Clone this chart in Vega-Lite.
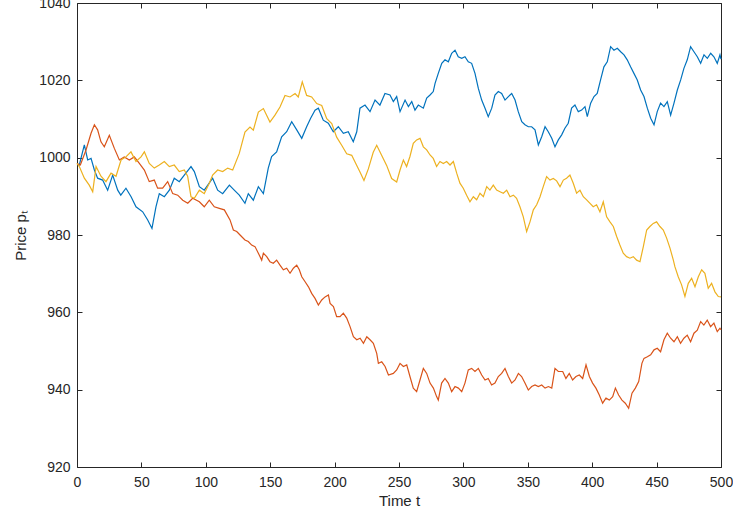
{
  "$schema": "https://vega.github.io/schema/vega-lite/v6.json",
  "width": 644,
  "height": 464,
  "autosize": "none",
  "padding": {"left": 77, "top": 3, "right": 12, "bottom": 49},
  "background": "white",
  "config": {
    "view": {"stroke": "#262626", "strokeWidth": 1},
    "axis": {
      "domain": false,
      "tickColor": "#262626",
      "tickSize": 5,
      "offset": -5,
      "labelFlush": false,
      "labelColor": "#262626",
      "titleColor": "#262626",
      "labelFont": "Liberation Sans",
      "titleFont": "Liberation Sans",
      "labelFontSize": 14,
      "titleFontSize": 15,
      "titleFontWeight": "normal",
      "format": "d",
      "grid": false
    }
  },
  "data": {"values": [
    {"series":"1","t":0,"price":998.5},{"series":"1","t":1.8,"price":998.1},{"series":"1","t":5.7,"price":1003.3},{"series":"1","t":8.3,"price":999.4},{"series":"1","t":10.9,"price":999.8},{"series":"1","t":13.5,"price":996.8},{"series":"1","t":16,"price":994.7},{"series":"1","t":19.9,"price":994.2},{"series":"1","t":23.8,"price":991.6},{"series":"1","t":27.7,"price":995.5},{"series":"1","t":31.6,"price":991.6},{"series":"1","t":34,"price":990.3},{"series":"1","t":38,"price":992.1},{"series":"1","t":42,"price":989.9},{"series":"1","t":45.8,"price":987.3},{"series":"1","t":51,"price":986},{"series":"1","t":54.9,"price":983.9},{"series":"1","t":58.2,"price":981.7},{"series":"1","t":61.3,"price":987.3},{"series":"1","t":63.9,"price":990.7},{"series":"1","t":67.8,"price":989.9},{"series":"1","t":71.7,"price":991.6},{"series":"1","t":75.5,"price":994.7},{"series":"1","t":79.4,"price":993.8},{"series":"1","t":83.3,"price":995.5},{"series":"1","t":88.5,"price":997.7},{"series":"1","t":91.1,"price":996.4},{"series":"1","t":95,"price":992.5},{"series":"1","t":98.8,"price":991.6},{"series":"1","t":105.3,"price":994.7},{"series":"1","t":109.2,"price":991.6},{"series":"1","t":113.1,"price":990.7},{"series":"1","t":118.3,"price":992.9},{"series":"1","t":122.1,"price":991.6},{"series":"1","t":126,"price":990.3},{"series":"1","t":130.4,"price":988.2},{"series":"1","t":133,"price":990.7},{"series":"1","t":136.9,"price":989},{"series":"1","t":140.8,"price":992.5},{"series":"1","t":144.7,"price":990.7},{"series":"1","t":148.5,"price":997.3},{"series":"1","t":151.1,"price":1000.3},{"series":"1","t":155,"price":1001.5},{"series":"1","t":158.9,"price":1005.4},{"series":"1","t":162.8,"price":1006.7},{"series":"1","t":166.7,"price":1009.3},{"series":"1","t":170.6,"price":1007.2},{"series":"1","t":174.5,"price":1005},{"series":"1","t":178.3,"price":1008},{"series":"1","t":181.4,"price":1010.2},{"series":"1","t":184.8,"price":1012.3},{"series":"1","t":187.4,"price":1012.8},{"series":"1","t":191.2,"price":1009.7},{"series":"1","t":195.1,"price":1008.9},{"series":"1","t":199,"price":1006.7},{"series":"1","t":202.9,"price":1008},{"series":"1","t":206.8,"price":1006.3},{"series":"1","t":210.6,"price":1006.7},{"series":"1","t":214.5,"price":1004.1},{"series":"1","t":217.2,"price":1006.7},{"series":"1","t":219.7,"price":1012.8},{"series":"1","t":223.6,"price":1013.6},{"series":"1","t":227.5,"price":1011.9},{"series":"1","t":231.4,"price":1014.9},{"series":"1","t":235.2,"price":1013.6},{"series":"1","t":239.1,"price":1016.6},{"series":"1","t":243,"price":1016.2},{"series":"1","t":245.6,"price":1014.5},{"series":"1","t":248.2,"price":1015.8},{"series":"1","t":250.8,"price":1011.9},{"series":"1","t":254.7,"price":1014.9},{"series":"1","t":257.3,"price":1013.2},{"series":"1","t":259.9,"price":1014.5},{"series":"1","t":262.4,"price":1012.3},{"series":"1","t":265,"price":1013.6},{"series":"1","t":268.9,"price":1012.8},{"series":"1","t":271.5,"price":1015.4},{"series":"1","t":274.1,"price":1016.2},{"series":"1","t":276.6,"price":1017.1},{"series":"1","t":278,"price":1019.2},{"series":"1","t":280.5,"price":1021.8},{"series":"1","t":283.2,"price":1024.4},{"series":"1","t":285.7,"price":1025.3},{"series":"1","t":288.3,"price":1024.8},{"series":"1","t":290.9,"price":1027},{"series":"1","t":293.5,"price":1027.8},{"series":"1","t":296,"price":1026.1},{"series":"1","t":298.7,"price":1025.7},{"series":"1","t":301.2,"price":1026.1},{"series":"1","t":303.8,"price":1024.8},{"series":"1","t":306.4,"price":1024.4},{"series":"1","t":309,"price":1021.8},{"series":"1","t":311.6,"price":1017.9},{"series":"1","t":314.2,"price":1014.9},{"series":"1","t":316.8,"price":1012.8},{"series":"1","t":319.3,"price":1010.6},{"series":"1","t":322,"price":1012.8},{"series":"1","t":324.5,"price":1016.2},{"series":"1","t":327.1,"price":1017.1},{"series":"1","t":329.7,"price":1016.6},{"series":"1","t":332.3,"price":1014.9},{"series":"1","t":334.9,"price":1015.8},{"series":"1","t":337.5,"price":1016.6},{"series":"1","t":340.1,"price":1014.9},{"series":"1","t":342.6,"price":1011.9},{"series":"1","t":345.3,"price":1009.3},{"series":"1","t":347.8,"price":1008.5},{"series":"1","t":350.4,"price":1008},{"series":"1","t":353,"price":1008},{"series":"1","t":355.6,"price":1007.2},{"series":"1","t":358.2,"price":1003.3},{"series":"1","t":360.8,"price":1005.4},{"series":"1","t":363.4,"price":1008},{"series":"1","t":365.9,"price":1006.7},{"series":"1","t":368.6,"price":1005},{"series":"1","t":371.1,"price":1002.8},{"series":"1","t":373.7,"price":1004.6},{"series":"1","t":376.3,"price":1005.9},{"series":"1","t":378.8,"price":1007.6},{"series":"1","t":381.4,"price":1008.9},{"series":"1","t":384,"price":1012.8},{"series":"1","t":386.6,"price":1013.6},{"series":"1","t":389.2,"price":1011.9},{"series":"1","t":391.8,"price":1012.3},{"series":"1","t":394.4,"price":1013.2},{"series":"1","t":396.2,"price":1010.6},{"series":"1","t":398.8,"price":1014.1},{"series":"1","t":401.4,"price":1015.8},{"series":"1","t":403.9,"price":1016.6},{"series":"1","t":406.5,"price":1020.1},{"series":"1","t":409.1,"price":1023.5},{"series":"1","t":411.7,"price":1024.8},{"series":"1","t":414.3,"price":1028.7},{"series":"1","t":416.9,"price":1027.8},{"series":"1","t":419.5,"price":1028.3},{"series":"1","t":422.1,"price":1027.4},{"series":"1","t":424.7,"price":1026.6},{"series":"1","t":427.2,"price":1025.3},{"series":"1","t":429.8,"price":1023.5},{"series":"1","t":432.4,"price":1021.8},{"series":"1","t":435,"price":1020.1},{"series":"1","t":437.6,"price":1017.5},{"series":"1","t":440.2,"price":1015.8},{"series":"1","t":442.8,"price":1012.8},{"series":"1","t":445.4,"price":1010.2},{"series":"1","t":448,"price":1008.5},{"series":"1","t":450.5,"price":1011.9},{"series":"1","t":453.1,"price":1014.1},{"series":"1","t":455.7,"price":1013.2},{"series":"1","t":458.3,"price":1014.5},{"series":"1","t":460.9,"price":1011},{"series":"1","t":463.5,"price":1014.1},{"series":"1","t":466.1,"price":1017.5},{"series":"1","t":468.7,"price":1020.1},{"series":"1","t":471.2,"price":1023.1},{"series":"1","t":473.8,"price":1025.3},{"series":"1","t":476.4,"price":1028.7},{"series":"1","t":479,"price":1027.4},{"series":"1","t":481.6,"price":1026.1},{"series":"1","t":484.2,"price":1024.4},{"series":"1","t":486.8,"price":1026.6},{"series":"1","t":489.4,"price":1025.7},{"series":"1","t":492,"price":1027},{"series":"1","t":494.5,"price":1026.1},{"series":"1","t":497.1,"price":1024.4},{"series":"1","t":499.2,"price":1026.6},{"series":"1","t":500,"price":1025.5},
    {"series":"2","t":0,"price":998.5},{"series":"2","t":2.6,"price":998.1},{"series":"2","t":7,"price":1002},{"series":"2","t":10.9,"price":1006.3},{"series":"2","t":13.5,"price":1008.5},{"series":"2","t":16,"price":1007.2},{"series":"2","t":18.6,"price":1004.1},{"series":"2","t":21.2,"price":1002.8},{"series":"2","t":25.1,"price":1005.8},{"series":"2","t":29,"price":1002.4},{"series":"2","t":32.9,"price":999.4},{"series":"2","t":36.7,"price":1000.2},{"series":"2","t":40.6,"price":999.4},{"series":"2","t":44.5,"price":1000.2},{"series":"2","t":48.4,"price":998.5},{"series":"2","t":52.3,"price":996.8},{"series":"2","t":56.1,"price":993.8},{"series":"2","t":60,"price":994.2},{"series":"2","t":62.6,"price":992.1},{"series":"2","t":66.5,"price":992.1},{"series":"2","t":70.4,"price":993.8},{"series":"2","t":74.3,"price":990.7},{"series":"2","t":78.2,"price":990.3},{"series":"2","t":82.1,"price":989},{"series":"2","t":86,"price":988.2},{"series":"2","t":89.8,"price":989.5},{"series":"2","t":95,"price":988.6},{"series":"2","t":98.8,"price":987.3},{"series":"2","t":102.7,"price":989},{"series":"2","t":106.6,"price":987.3},{"series":"2","t":110.5,"price":986.9},{"series":"2","t":114.4,"price":986.5},{"series":"2","t":118.8,"price":983.9},{"series":"2","t":121.4,"price":981.3},{"series":"2","t":124,"price":980.9},{"series":"2","t":126.6,"price":980},{"series":"2","t":130.4,"price":978.7},{"series":"2","t":133,"price":978.3},{"series":"2","t":135.6,"price":977.4},{"series":"2","t":138.2,"price":977},{"series":"2","t":140.8,"price":975.3},{"series":"2","t":143.4,"price":973.5},{"series":"2","t":144.7,"price":975.3},{"series":"2","t":147.3,"price":974.4},{"series":"2","t":149.8,"price":973.1},{"series":"2","t":152.4,"price":972.7},{"series":"2","t":155,"price":973.5},{"series":"2","t":157.6,"price":972.2},{"series":"2","t":160.2,"price":971},{"series":"2","t":162.8,"price":971.4},{"series":"2","t":165.4,"price":970.1},{"series":"2","t":168,"price":971.4},{"series":"2","t":170.6,"price":972.2},{"series":"2","t":172.6,"price":971},{"series":"2","t":174.5,"price":969.2},{"series":"2","t":177.1,"price":967.9},{"series":"2","t":179.7,"price":966.6},{"series":"2","t":182.2,"price":964.9},{"series":"2","t":184.8,"price":963.6},{"series":"2","t":187.4,"price":961.9},{"series":"2","t":190,"price":963.2},{"series":"2","t":192.6,"price":964},{"series":"2","t":195.2,"price":964.5},{"series":"2","t":196.5,"price":962.3},{"series":"2","t":199.1,"price":961.5},{"series":"2","t":201.6,"price":958.9},{"series":"2","t":204.2,"price":958.9},{"series":"2","t":206.8,"price":959.8},{"series":"2","t":209.4,"price":958.5},{"series":"2","t":212,"price":956.3},{"series":"2","t":214.6,"price":953.7},{"series":"2","t":217.2,"price":952.9},{"series":"2","t":219.8,"price":953.3},{"series":"2","t":222.4,"price":952},{"series":"2","t":225,"price":953.7},{"series":"2","t":227.5,"price":952.9},{"series":"2","t":230.1,"price":952},{"series":"2","t":232.7,"price":949.4},{"series":"2","t":234,"price":946.8},{"series":"2","t":236.6,"price":947.2},{"series":"2","t":239.2,"price":946},{"series":"2","t":241.8,"price":943.8},{"series":"2","t":245.6,"price":944.2},{"series":"2","t":248.2,"price":945.1},{"series":"2","t":250.8,"price":946.8},{"series":"2","t":253.4,"price":946},{"series":"2","t":256,"price":946.4},{"series":"2","t":258.5,"price":943.4},{"series":"2","t":261.1,"price":940.4},{"series":"2","t":263.7,"price":939.5},{"series":"2","t":266.3,"price":942.5},{"series":"2","t":268.9,"price":945.5},{"series":"2","t":271.5,"price":944.2},{"series":"2","t":274.1,"price":941.7},{"series":"2","t":276.7,"price":940.4},{"series":"2","t":279.2,"price":938.2},{"series":"2","t":280.5,"price":937.3},{"series":"2","t":283.1,"price":941.7},{"series":"2","t":285.7,"price":942.9},{"series":"2","t":288.3,"price":941.7},{"series":"2","t":290.9,"price":939.5},{"series":"2","t":293.5,"price":940.8},{"series":"2","t":296.1,"price":940.4},{"series":"2","t":298.7,"price":939.5},{"series":"2","t":301.2,"price":941.7},{"series":"2","t":303.8,"price":945.1},{"series":"2","t":306.4,"price":945.5},{"series":"2","t":309,"price":944.7},{"series":"2","t":311.6,"price":945.5},{"series":"2","t":314.2,"price":943.8},{"series":"2","t":316.8,"price":942.5},{"series":"2","t":319.3,"price":942.9},{"series":"2","t":321.9,"price":941.2},{"series":"2","t":324.5,"price":941.7},{"series":"2","t":327.1,"price":943.4},{"series":"2","t":329.7,"price":944.2},{"series":"2","t":332.3,"price":945.5},{"series":"2","t":334.9,"price":943.4},{"series":"2","t":337.5,"price":941.7},{"series":"2","t":340.1,"price":942.5},{"series":"2","t":342.7,"price":944.2},{"series":"2","t":345.2,"price":943.4},{"series":"2","t":347.8,"price":941.7},{"series":"2","t":350.4,"price":939.9},{"series":"2","t":353,"price":940.8},{"series":"2","t":355.6,"price":941.2},{"series":"2","t":358.2,"price":940.8},{"series":"2","t":360.8,"price":941.2},{"series":"2","t":363.4,"price":940.4},{"series":"2","t":366,"price":940.8},{"series":"2","t":368.6,"price":940.4},{"series":"2","t":371.1,"price":945.5},{"series":"2","t":373.7,"price":944.7},{"series":"2","t":377.1,"price":944.7},{"series":"2","t":379.6,"price":942.9},{"series":"2","t":382.2,"price":944.2},{"series":"2","t":384.8,"price":942.5},{"series":"2","t":387.4,"price":943.4},{"series":"2","t":390,"price":943.8},{"series":"2","t":392.6,"price":942.9},{"series":"2","t":395.2,"price":946.4},{"series":"2","t":397.8,"price":943.4},{"series":"2","t":400.3,"price":941.7},{"series":"2","t":402.9,"price":940.4},{"series":"2","t":405.5,"price":938.6},{"series":"2","t":408.1,"price":936.5},{"series":"2","t":410.7,"price":937.8},{"series":"2","t":413.3,"price":937.3},{"series":"2","t":415.9,"price":938.2},{"series":"2","t":418,"price":940.4},{"series":"2","t":420.5,"price":938.6},{"series":"2","t":423.1,"price":937.3},{"series":"2","t":425.7,"price":936.5},{"series":"2","t":428.3,"price":935.2},{"series":"2","t":430.9,"price":939.1},{"series":"2","t":433.5,"price":940.4},{"series":"2","t":436.1,"price":942.1},{"series":"2","t":438.6,"price":946.8},{"series":"2","t":440.2,"price":948.1},{"series":"2","t":442.8,"price":948.5},{"series":"2","t":445.4,"price":949},{"series":"2","t":448,"price":950.3},{"series":"2","t":450.5,"price":950.7},{"series":"2","t":453.1,"price":949.8},{"series":"2","t":455.7,"price":952.9},{"series":"2","t":458.3,"price":954.6},{"series":"2","t":460.9,"price":953.3},{"series":"2","t":463.5,"price":952.4},{"series":"2","t":466.1,"price":953.7},{"series":"2","t":468.6,"price":952},{"series":"2","t":471.2,"price":953.3},{"series":"2","t":473.8,"price":954.1},{"series":"2","t":476.4,"price":952.4},{"series":"2","t":479,"price":954.6},{"series":"2","t":481.6,"price":955.4},{"series":"2","t":484.2,"price":957.6},{"series":"2","t":486.7,"price":956.7},{"series":"2","t":489.3,"price":958},{"series":"2","t":491.9,"price":956.3},{"series":"2","t":494.5,"price":957.2},{"series":"2","t":497.1,"price":955},{"series":"2","t":499.2,"price":955.9},{"series":"2","t":500,"price":955.5},
    {"series":"3","t":0,"price":998.5},{"series":"3","t":1.8,"price":997.7},{"series":"3","t":5.7,"price":994.7},{"series":"3","t":9.5,"price":992.9},{"series":"3","t":12.2,"price":991.2},{"series":"3","t":14.8,"price":997.7},{"series":"3","t":18.6,"price":995.2},{"series":"3","t":22.5,"price":993.8},{"series":"3","t":26.4,"price":996},{"series":"3","t":30.3,"price":995.2},{"series":"3","t":34.2,"price":999.4},{"series":"3","t":38,"price":1000.2},{"series":"3","t":41.9,"price":1001.5},{"series":"3","t":45.8,"price":999},{"series":"3","t":49.7,"price":1000.2},{"series":"3","t":52.3,"price":1001.5},{"series":"3","t":56.1,"price":998.5},{"series":"3","t":60,"price":997.3},{"series":"3","t":63.9,"price":998.1},{"series":"3","t":67.8,"price":999},{"series":"3","t":71.7,"price":997.7},{"series":"3","t":75.5,"price":998.1},{"series":"3","t":79.4,"price":996.4},{"series":"3","t":83.3,"price":996.8},{"series":"3","t":85.9,"price":995.2},{"series":"3","t":88.5,"price":989.9},{"series":"3","t":91.1,"price":989.5},{"series":"3","t":95,"price":991.6},{"series":"3","t":98.8,"price":990.7},{"series":"3","t":102.7,"price":993.4},{"series":"3","t":105.3,"price":995.5},{"series":"3","t":109.2,"price":996.8},{"series":"3","t":113.1,"price":996.4},{"series":"3","t":117,"price":997.3},{"series":"3","t":120.9,"price":996.8},{"series":"3","t":126,"price":1001.1},{"series":"3","t":130.4,"price":1006.6},{"series":"3","t":134.3,"price":1007.9},{"series":"3","t":136.9,"price":1007.1},{"series":"3","t":140.8,"price":1011.8},{"series":"3","t":144.7,"price":1012.7},{"series":"3","t":149.8,"price":1009.2},{"series":"3","t":153.7,"price":1011},{"series":"3","t":157.6,"price":1013.1},{"series":"3","t":161.5,"price":1016.1},{"series":"3","t":165.4,"price":1015.7},{"series":"3","t":169.3,"price":1016.6},{"series":"3","t":171.8,"price":1015.7},{"series":"3","t":174.9,"price":1019.6},{"series":"3","t":178.3,"price":1016.1},{"series":"3","t":182.2,"price":1015.7},{"series":"3","t":186.1,"price":1014},{"series":"3","t":190,"price":1013.5},{"series":"3","t":193.9,"price":1010.1},{"series":"3","t":197.8,"price":1008.8},{"series":"3","t":201.6,"price":1005.3},{"series":"3","t":205.5,"price":1003.2},{"series":"3","t":209.4,"price":1001},{"series":"3","t":213.3,"price":1000.6},{"series":"3","t":217.2,"price":998},{"series":"3","t":219.7,"price":996.3},{"series":"3","t":222.8,"price":994.1},{"series":"3","t":226.2,"price":997.1},{"series":"3","t":230,"price":1001.4},{"series":"3","t":232.7,"price":1003.2},{"series":"3","t":236.5,"price":1000.6},{"series":"3","t":240.4,"price":998},{"series":"3","t":244.3,"price":994.6},{"series":"3","t":248.2,"price":993.7},{"series":"3","t":250.8,"price":996.8},{"series":"3","t":253.4,"price":999.4},{"series":"3","t":255.9,"price":997.7},{"series":"3","t":258.5,"price":1000.3},{"series":"3","t":261.1,"price":1003.7},{"series":"3","t":263.7,"price":1004.6},{"series":"3","t":266.3,"price":1005},{"series":"3","t":268.9,"price":1002.8},{"series":"3","t":271.5,"price":1002},{"series":"3","t":274.1,"price":1000.7},{"series":"3","t":276.6,"price":999.8},{"series":"3","t":279.2,"price":997.7},{"series":"3","t":281.8,"price":999},{"series":"3","t":284.4,"price":998.5},{"series":"3","t":287,"price":999},{"series":"3","t":289.6,"price":998.1},{"series":"3","t":292.2,"price":999},{"series":"3","t":294.8,"price":996},{"series":"3","t":297.3,"price":993.4},{"series":"3","t":299.9,"price":992.1},{"series":"3","t":302.5,"price":990.3},{"series":"3","t":305.1,"price":988.6},{"series":"3","t":307.7,"price":989.9},{"series":"3","t":310.3,"price":989.1},{"series":"3","t":312.9,"price":990.8},{"series":"3","t":315.5,"price":989.9},{"series":"3","t":318.1,"price":992.5},{"series":"3","t":320.6,"price":991.6},{"series":"3","t":323.2,"price":992.9},{"series":"3","t":325.8,"price":991.6},{"series":"3","t":328.4,"price":991.2},{"series":"3","t":331,"price":990.8},{"series":"3","t":333.6,"price":991.6},{"series":"3","t":336.2,"price":989.9},{"series":"3","t":338.8,"price":990.3},{"series":"3","t":341.3,"price":989.5},{"series":"3","t":343.9,"price":987.3},{"series":"3","t":346.5,"price":984.7},{"series":"3","t":349.1,"price":980.9},{"series":"3","t":351.7,"price":983.4},{"series":"3","t":354.3,"price":986.5},{"series":"3","t":356.9,"price":987.8},{"series":"3","t":359.5,"price":989.9},{"series":"3","t":362,"price":992.5},{"series":"3","t":364.6,"price":995.1},{"series":"3","t":367.2,"price":994.2},{"series":"3","t":369.8,"price":994.6},{"series":"3","t":372.4,"price":994},{"series":"3","t":375,"price":992.5},{"series":"3","t":377.6,"price":994.2},{"series":"3","t":380.1,"price":994.7},{"series":"3","t":382.7,"price":995.5},{"series":"3","t":385.3,"price":993.4},{"series":"3","t":387.9,"price":990.8},{"series":"3","t":390.5,"price":991.6},{"series":"3","t":393.1,"price":989.9},{"series":"3","t":395.7,"price":989.1},{"series":"3","t":398.3,"price":988.2},{"series":"3","t":400.8,"price":987.3},{"series":"3","t":403.4,"price":987.8},{"series":"3","t":406,"price":986},{"series":"3","t":408.6,"price":988.6},{"series":"3","t":411.2,"price":984.7},{"series":"3","t":413.8,"price":983.4},{"series":"3","t":416.4,"price":982.2},{"series":"3","t":419,"price":979.6},{"series":"3","t":421.5,"price":977.4},{"series":"3","t":424.1,"price":975.3},{"series":"3","t":426.7,"price":974.4},{"series":"3","t":429.3,"price":974},{"series":"3","t":431.9,"price":974.4},{"series":"3","t":434.5,"price":973.5},{"series":"3","t":437.1,"price":973.1},{"series":"3","t":439.7,"price":977},{"series":"3","t":442.3,"price":981.3},{"series":"3","t":444.8,"price":982.2},{"series":"3","t":447.4,"price":983},{"series":"3","t":450,"price":983.4},{"series":"3","t":452.6,"price":982.2},{"series":"3","t":455.2,"price":981.3},{"series":"3","t":457.8,"price":979.2},{"series":"3","t":460.4,"price":976.6},{"series":"3","t":463,"price":973.5},{"series":"3","t":464.2,"price":971.8},{"series":"3","t":466.8,"price":969.2},{"series":"3","t":469.4,"price":967.1},{"series":"3","t":472,"price":964.1},{"series":"3","t":474.6,"price":967.5},{"series":"3","t":477.2,"price":968.8},{"series":"3","t":479.8,"price":966.6},{"series":"3","t":482.4,"price":969.2},{"series":"3","t":485,"price":971},{"series":"3","t":487.5,"price":970.1},{"series":"3","t":490.1,"price":966.2},{"series":"3","t":492.7,"price":967.5},{"series":"3","t":495.3,"price":965.3},{"series":"3","t":497.9,"price":964.1},{"series":"3","t":500,"price":964}
  ]},
  "layer": [
    {
      "mark": {"type": "line", "strokeWidth": 1.2, "interpolate": "linear"},
      "encoding": {
        "x": {"field": "t", "type": "quantitative", "scale": {"domain": [0, 500], "nice": false, "zero": false},
              "axis": {"orient": "bottom", "values": [0,50,100,150,200,250,300,350,400,450,500], "title": "Time t", "labelPadding": 8, "titlePadding": 4}},
        "y": {"field": "price", "type": "quantitative", "scale": {"domain": [920, 1040], "nice": false, "zero": false},
              "axis": {"orient": "left", "values": [920,940,960,980,1000,1020,1040], "title": "Price pₜ", "labelPadding": 7, "titlePadding": 10}},
        "color": {"field": "series", "type": "nominal", "scale": {"domain": ["1","2","3"], "range": ["#0072BD", "#D95319", "#EDB120"]}, "legend": null}
      }
    },
    {
      "mark": {"type": "point", "opacity": 0},
      "encoding": {
        "x": {"field": "t", "type": "quantitative", "scale": {"domain": [0, 500], "nice": false, "zero": false},
              "axis": {"orient": "top", "values": [0,50,100,150,200,250,300,350,400,450,500], "labels": false, "title": null}},
        "y": {"field": "price", "type": "quantitative", "scale": {"domain": [920, 1040], "nice": false, "zero": false},
              "axis": {"orient": "right", "values": [920,940,960,980,1000,1020,1040], "labels": false, "title": null}}
      }
    }
  ],
  "resolve": {"axis": {"x": "independent", "y": "independent"}}
}
